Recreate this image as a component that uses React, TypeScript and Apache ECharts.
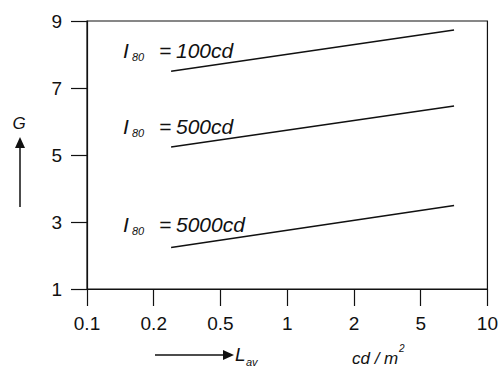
import React, { useEffect, useRef } from "react";
import * as echarts from "echarts";

// x axis: equally spaced 1-2-5 ticks (position index -> label)
const xTickLabels = ["0.1", "0.2", "0.5", "1", "2", "5", "10"];
const yTicks = [1, 3, 5, 7, 9];
// line endpoints in axis-position units
const linePos = [1.26, 5.5];
const g100 = [7.5, 8.73];
const g500 = [5.24, 6.46];
const g5000 = [2.24, 3.49];
const curveNames = ["100cd", "500cd", "5000cd"];

const FONT = "'Liberation Sans', Arial, sans-serif";

export default function App() {
  const ref = useRef<HTMLDivElement>(null);
  useEffect(() => {
    if (!ref.current) return;
    const chart = echarts.init(ref.current, null, { renderer: "svg" });
    const curves = [g100, g500, g5000];
    const labelY = [50, 126, 224];
    const italic = (text: string, x: number, y: number, size: number, align = "left") => ({
      type: "text",
      x,
      y,
      style: {
        text,
        fill: "#111",
        font: `italic ${size}px ${FONT}`,
        textAlign: align,
        textVerticalAlign: "middle",
      },
    });
    const graphics: any[] = [];
    curveNames.forEach((n, i) => {
      const y = labelY[i];
      graphics.push(italic("I", 123, y, 21));
      graphics.push(italic("80", 132, y + 7, 11));
      graphics.push(italic("=", 159, y, 21));
      graphics.push(italic(n, 176, y, 21));
    });
    // G with upward arrow
    graphics.push(italic("G", 19, 123, 17, "center"));
    graphics.push({ type: "line", shape: { x1: 20, y1: 146, x2: 20, y2: 207 }, style: { stroke: "#111", lineWidth: 1.5 } });
    graphics.push({ type: "polygon", shape: { points: [[20, 137], [15, 148], [25, 148]] }, style: { fill: "#111" } });
    // L_av with right arrow
    graphics.push({ type: "line", shape: { x1: 155, y1: 355, x2: 225, y2: 355 }, style: { stroke: "#111", lineWidth: 1.5 } });
    graphics.push({ type: "polygon", shape: { points: [[234, 355], [223, 350], [223, 360]] }, style: { fill: "#111" } });
    graphics.push(italic("L", 235, 354, 19));
    graphics.push(italic("av", 246, 362, 11));
    graphics.push(italic("cd / m", 352, 358, 17));
    graphics.push(italic("2", 399, 348, 10));

    chart.setOption({
      animation: false,
      grid: { left: 87, right: 10, top: 21, bottom: 81, show: true, borderColor: "#111", borderWidth: 1.2, backgroundColor: "transparent" },
      xAxis: {
        type: "value",
        min: 0,
        max: xTickLabels.length - 1,
        interval: 1,
        axisLine: { lineStyle: { color: "#111", width: 1.2 } },
        axisTick: { show: true, inside: false, length: 17, lineStyle: { color: "#111", width: 1.2 } },
        axisLabel: {
          margin: 25,
          color: "#111",
          fontSize: 19,
          fontFamily: FONT,
          formatter: (v: number) => xTickLabels[Math.round(v)] ?? "",
        },
        splitLine: { show: false },
      },
      yAxis: {
        type: "value",
        min: 1,
        max: 9,
        axisLine: { show: true, lineStyle: { color: "#111", width: 1.2 } },
        axisTick: { show: true, length: 16, customValues: yTicks, lineStyle: { color: "#111", width: 1.2 } },
        axisLabel: { margin: 25, color: "#111", fontSize: 19, fontFamily: FONT, customValues: yTicks },
        splitLine: { show: false },
      },
      series: curves.map((g, i) => ({
        type: "line",
        name: curveNames[i],
        data: linePos.map((x, j) => [x, g[j]]),
        symbol: "none",
        lineStyle: { color: "#111", width: 1.5 },
      })),
      graphic: graphics,
    });
    return () => chart.dispose();
  }, []);
  return <div ref={ref} style={{ width: 501, height: 370, position: "absolute", left: 0, top: 0 }} />;
}
